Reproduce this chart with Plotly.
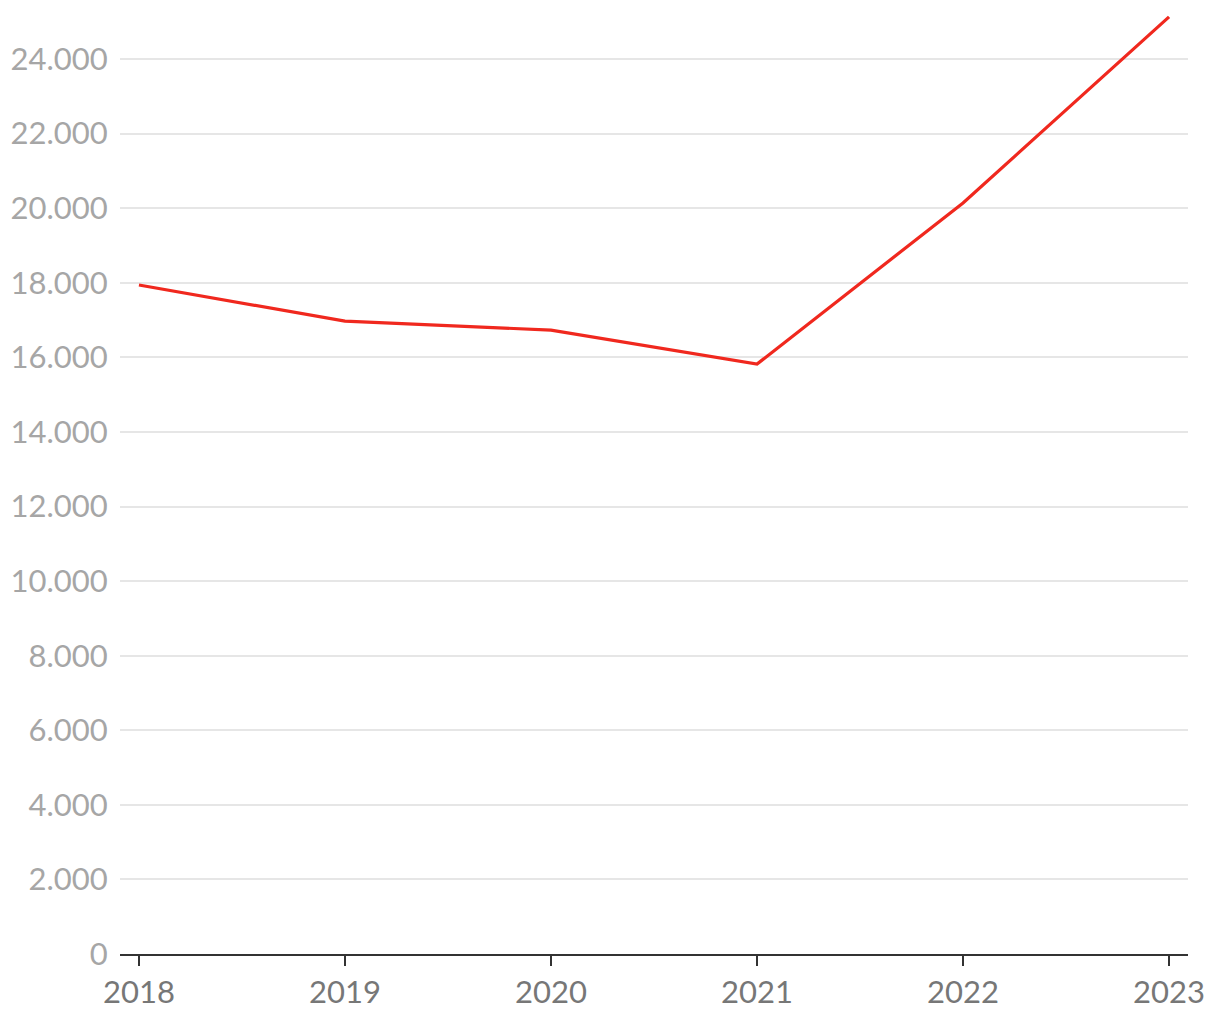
import plotly.graph_objects as go

years = [2018, 2019, 2020, 2021, 2022, 2023]
values = [17940, 16970, 16730, 15820, 20140, 25130]
y_ticks = list(range(0, 24001, 2000))
y_tick_labels = [f"{v:,}".replace(",", ".") for v in y_ticks]

fig = go.Figure()
fig.add_trace(go.Scatter(
    x=years, y=values, mode="lines",
    line=dict(color="#f0281e", width=3.2),
    cliponaxis=False, hoverinfo="skip", showlegend=False,
))

fig.update_layout(
    width=1220, height=1020,
    margin=dict(l=112, r=40, t=2, b=74),
    plot_bgcolor="white", paper_bgcolor="white",
    font=dict(family="Lato", size=31),
    xaxis=dict(
        range=[2017.908, 2023.092],
        tickvals=years, ticktext=[str(y) for y in years],
        showgrid=False, zeroline=False,
        showline=True, linecolor="#333333", linewidth=2,
        ticks="outside", ticklen=10, tickwidth=2, tickcolor="#333333",
        tickfont=dict(color="#777777", size=31),
    ),
    yaxis=dict(
        range=[0, 25315],
        tickvals=y_ticks, ticktext=y_tick_labels,
        showgrid=True, gridcolor="#e6e6e6", gridwidth=1.5,
        zeroline=False, showline=False,
        ticks="outside", ticklen=0, ticklabelstandoff=5,
        tickfont=dict(color="#a6a6a6", size=31),
    ),
)

fig.write_html("out.html")
